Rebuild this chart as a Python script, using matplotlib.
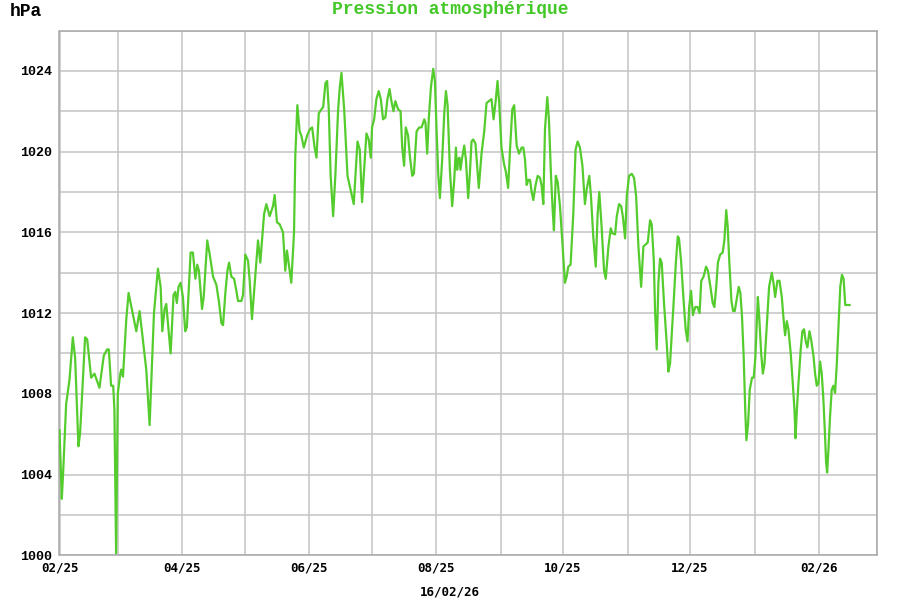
import matplotlib
matplotlib.use('Agg')
import matplotlib.pyplot as plt
import matplotlib.dates as mdates
from matplotlib.ticker import MultipleLocator
import datetime as dt

# day offsets from 2025-02-01 and pressure (hPa)
days = [0, 1.1, 1.7, 3.2, 4.8, 6.4, 7.5, 9.1, 9.9, 12.3, 13.3, 15.2, 16.8, 19.2, 21.3, 22.9, 23.7,
        24.8, 25.8, 26.4, 27.2, 28.0, 29.2, 29.7, 30.5, 32.1, 33.2, 36.9, 38.5, 41.7, 43.3, 45.4,
        47.3, 48.6, 49.4, 50.5, 51.3, 52.1, 53.4, 54.8, 55.6, 56.4, 57.2, 58.2, 59.3, 60.4, 61.2,
        63.0, 64.1, 65.3, 66.2, 67.0, 68.5, 69.3, 71.0, 72.2, 73.8, 75.4, 76.7, 77.8, 78.6, 79.7,
        80.7, 81.5, 82.6, 83.9, 85.0, 85.8, 87.4, 88.2, 89.3, 90.6, 91.4, 92.5,
        95.4, 96.5, 98.3, 99.4, 101.0, 102.6, 103.4, 104.5, 105.8, 107.4, 108.5, 109.3, 110.1,
        111.4, 112.7, 113.3, 114.3, 115.4, 116.2, 117.4, 119.0, 120.3, 121.4, 122.6, 123.5, 124.6,
        125.9, 126.7, 127.8, 128.6, 129.4, 130.3, 131.5, 132.6, 133.9, 134.7, 135.5, 136.8, 138.4,
        140.3, 141.4, 143.2, 144.3, 145.4, 146.7, 147.5, 148.6, 149.6, 150.2, 151.2, 152.3, 153.4,
        154.4, 155.5, 156.6, 157.6, 158.6, 159.5, 160.5, 161.4, 162.7, 163.9, 164.7, 165.6, 166.4,
        167.5, 168.4, 169.5, 170.3, 171.6, 172.9, 174.0, 175.3, 175.9, 176.7, 177.5, 178.5, 179.6,
        180.4, 181.2, 182.0, 182.8, 183.9, 184.9, 185.7, 186.5, 187.6, 188.7, 189.7, 190.5,
        191.1, 191.6, 192.2, 192.7, 193.5, 194.5, 195.3, 196.4, 197.2, 198.0, 198.8, 199.9, 201.5,
        202.8, 204.1, 205.2, 206.3, 207.6, 208.6, 209.6, 210.5, 211.3, 212.4, 213.6, 214.5, 215.6,
        216.5, 217.6, 218.5, 219.7, 220.8, 222.1, 222.9, 223.7, 224.5, 225.3, 226.1, 226.9, 227.7,
        228.8, 229.8, 230.9, 231.7, 232.5, 233.3, 234.4, 235.2, 236.2, 237.0, 237.6, 238.5,
        239.4, 240.5, 241.6, 242.9, 243.7, 244.5, 245.6, 246.9, 248.0, 249.0, 250.1, 251.3, 252.5,
        253.3, 254.6, 255.4, 256.5, 257.7, 258.6, 259.4, 260.5, 261.7, 262.5, 263.8, 264.9, 265.7,
        267.0, 267.8, 268.9, 269.9, 270.7, 271.8, 272.6, 273.7, 275.0, 276.1, 277.1, 278.2, 279.5,
        280.6, 281.7, 282.7, 283.8, 284.6, 285.6, 286.2, 287.0,
        287.8, 288.6, 289.4, 290.5, 291.8, 292.6, 293.4, 295.0, 296.2, 297.1, 297.7, 298.7, 299.8,
        300.9, 301.8, 302.6, 303.5, 304.4, 305.5, 306.6, 307.6, 308.4, 309.5, 310.7, 311.6, 312.8,
        313.9, 314.7, 315.6, 316.4, 317.5, 318.7, 319.5, 320.4, 321.1, 321.9, 322.9, 323.7, 324.5,
        325.6, 326.4, 327.2, 328.0, 328.8, 329.6, 330.1, 330.9, 331.7, 332.8, 333.6, 334.4,
        335.6, 336.2, 337.2, 338.0, 338.8, 339.9, 341.0, 342.3, 343.1, 343.9, 345.0, 346.0, 347.1,
        348.2, 348.7, 349.5, 350.3, 351.4, 352.4, 353.2, 353.7, 354.3, 355.1, 356.2, 357.0, 357.8,
        358.6, 359.4, 360.4, 361.2, 362.3, 363.1, 363.9, 364.7, 365.5, 366.3, 367.1, 367.9, 368.4,
        368.9, 369.5, 370.3, 371.1, 371.9, 372.7, 373.5, 374.4, 375.2, 376.0, 376.8, 377.6, 379.7]

pressure = [1006.2, 1002.8, 1004.0, 1007.5, 1008.7, 1010.8, 1009.8, 1005.4, 1006.05, 1010.8, 1010.7,
            1008.8, 1009.0, 1008.3, 1009.9, 1010.2, 1010.2, 1008.4, 1008.4, 1007.2, 1000.1, 1008.0,
            1009.0, 1009.2, 1008.85, 1011.7, 1013.0, 1011.1, 1012.1, 1009.2, 1006.45, 1012.0,
            1014.2, 1013.3, 1011.1, 1012.2, 1012.45, 1011.5, 1010.0, 1012.9, 1013.05, 1012.5, 1013.3,
            1013.5, 1012.8, 1011.1, 1011.3, 1015.0, 1015.0, 1013.7, 1014.4, 1014.1, 1012.2, 1012.8,
            1015.6, 1014.9, 1013.8, 1013.4, 1012.5, 1011.5, 1011.4, 1013.0, 1014.1, 1014.5, 1013.8,
            1013.7, 1013.1, 1012.6, 1012.6, 1012.9, 1014.9, 1014.6, 1013.6, 1011.7,
            1015.6, 1014.5, 1016.9, 1017.4, 1016.8, 1017.3, 1017.85, 1016.5, 1016.4, 1016.0, 1014.1,
            1015.1, 1014.5, 1013.5, 1016.0, 1019.75, 1022.3, 1021.0, 1020.8, 1020.2, 1020.8, 1021.1,
            1021.2, 1020.2, 1019.7, 1021.9, 1022.1, 1022.2, 1023.4, 1023.5, 1022.1, 1018.8, 1016.8,
            1018.9, 1022.1, 1023.2, 1023.9, 1022.1, 1018.8, 1017.9, 1017.4, 1020.5, 1020.1, 1017.5,
            1019.6, 1020.9, 1020.6, 1019.7, 1021.2, 1021.6, 1022.6, 1023.0, 1022.6, 1021.6, 1021.7,
            1022.6, 1023.1, 1022.5, 1022.0, 1022.5, 1022.1, 1022.0, 1020.2, 1019.3, 1021.2, 1020.8,
            1019.75, 1018.8, 1018.9, 1021.0, 1021.2, 1021.2, 1021.6, 1021.4, 1019.9, 1021.7, 1023.2,
            1024.1, 1023.5, 1021.1, 1018.9, 1017.7, 1019.6, 1021.9, 1023.0, 1022.3, 1019.1, 1017.3,
            1018.6, 1020.2,
            1019.1, 1019.6, 1019.7, 1019.1, 1019.7, 1020.3, 1019.6, 1017.7, 1018.9, 1020.5, 1020.6,
            1020.4, 1018.2, 1019.9, 1021.0, 1022.4, 1022.5, 1022.6, 1021.6, 1022.5, 1023.5, 1022.4,
            1020.2, 1019.4, 1019.0, 1018.2, 1020.1, 1022.1, 1022.3, 1020.3, 1019.9, 1020.2, 1020.2,
            1019.6, 1018.35, 1018.6, 1018.6, 1018.0, 1017.6, 1018.35, 1018.8, 1018.7, 1018.3, 1017.4,
            1021.1, 1022.7, 1021.6, 1018.8, 1017.1, 1016.1, 1018.8,
            1018.5, 1017.3, 1015.6, 1013.5, 1013.8, 1014.3, 1014.4, 1016.9, 1020.1, 1020.5, 1020.2,
            1019.3, 1017.4, 1018.1, 1018.8, 1017.8, 1015.8, 1014.3, 1016.9, 1018.0, 1016.3, 1014.1,
            1013.7, 1015.3, 1016.2, 1015.95, 1015.9, 1016.8, 1017.4, 1017.3, 1016.8, 1015.7, 1017.8,
            1018.8, 1018.9, 1018.7, 1017.8, 1015.3, 1013.3, 1015.3, 1015.4, 1015.5, 1016.6, 1016.4,
            1014.6, 1012.1, 1010.2,
            1013.5, 1014.7, 1014.5, 1012.5, 1010.5, 1009.1, 1009.5, 1012.3, 1014.5, 1015.8, 1015.7,
            1014.6, 1012.8, 1011.2, 1010.6, 1012.3, 1013.1, 1011.9, 1012.3, 1012.3, 1012.0, 1013.6,
            1013.8, 1014.3, 1014.1, 1013.3, 1012.5, 1012.3, 1013.3, 1014.5, 1014.9, 1015.0, 1015.6,
            1017.1, 1016.3, 1014.5, 1012.6, 1012.1, 1012.1, 1012.8, 1013.3, 1013.0, 1011.8, 1009.8,
            1007.0, 1005.7, 1006.5, 1008.2, 1008.8, 1008.8, 1009.8,
            1012.8, 1011.9, 1010.0, 1009.0, 1009.5, 1011.4, 1013.3, 1014.0, 1013.5, 1012.8, 1013.6,
            1013.6, 1012.8, 1011.4, 1010.9, 1011.6, 1011.2, 1010.0, 1008.5, 1007.2, 1005.8, 1007.1,
            1008.5, 1010.2, 1011.1, 1011.2, 1010.6, 1010.3, 1011.1, 1010.7, 1009.9, 1009.0, 1008.4,
            1008.5, 1009.6, 1009.0, 1007.7, 1005.9, 1004.6, 1004.1, 1005.2, 1006.9, 1008.2, 1008.4,
            1008.05, 1009.4, 1011.5, 1013.3, 1013.9, 1013.7, 1012.4, 1012.4]

title = 'Pression atmosphérique'
unit = 'hPa'
date_label = '16/02/26'

start = dt.datetime(2025, 2, 1)
dates = [start + dt.timedelta(days=d) for d in days]

fig = plt.figure(figsize=(9, 6), dpi=100)
ax = fig.add_axes([59.5 / 900, 1 - 555.3 / 600, (877.3 - 59.5) / 900, (555.3 - 30.5) / 600])

ax.plot(dates, pressure, color='#55cc2e', lw=1.6, zorder=3)

ax.set_xlim(dt.datetime(2025, 2, 1), dt.datetime(2026, 3, 1))
ax.set_ylim(1000, 1026)

ax.xaxis.set_major_locator(mdates.MonthLocator(bymonth=[2, 4, 6, 8, 10, 12]))
ax.xaxis.set_minor_locator(mdates.MonthLocator())
ax.xaxis.set_major_formatter(mdates.DateFormatter('%m/%y'))
ax.yaxis.set_major_locator(MultipleLocator(4))
ax.yaxis.set_minor_locator(MultipleLocator(2))

ax.grid(True, which='both', color='#c4c4c4', lw=1.1, zorder=0)
ax.set_axisbelow(True)
for s in ax.spines.values():
    s.set_color('#a8a8a8')
    s.set_linewidth(1.1)

ax.tick_params(which='both', length=0)
ax.tick_params(axis='x', pad=4.5)
ax.tick_params(axis='y', pad=5)
for lab in ax.get_yticklabels():
    lab.set_fontfamily('Liberation Mono')
    lab.set_fontweight('bold')
    lab.set_fontsize(9.5)
for lab in ax.get_xticklabels():
    lab.set_fontfamily('DejaVu Sans Mono')
    lab.set_fontweight('bold')
    lab.set_fontsize(9)

fig.text(450 / 900, 1 - 10 / 600, title, color='#44c828', family='Liberation Mono',
         weight='bold', fontsize=13, ha='center', va='center')
fig.text(10 / 900, 1 - 11 / 600, unit, color='black', family='Liberation Mono',
         weight='bold', fontsize=13, ha='left', va='center')
fig.text(450 / 900, 1 - 592 / 600, date_label, color='black', family='DejaVu Sans Mono',
         weight='bold', fontsize=9, ha='center', va='center')

fig.savefig('out.png', dpi=100)
